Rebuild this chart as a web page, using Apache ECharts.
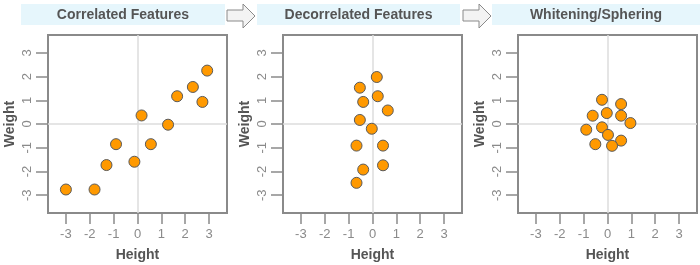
<!DOCTYPE html>
<html><head><meta charset="utf-8">
<script src="https://cdn.jsdelivr.net/npm/echarts@6/dist/echarts.min.js"></script>
<style>html,body{margin:0;padding:0;background:#fff}#c{width:700px;height:265px}</style>
</head><body><div id="c"></div>
<script>
const panelTitles = ['Correlated Features', 'Decorrelated Features', 'Whitening/Sphering'];
const xAxisName = 'Height';
const yAxisName = 'Weight';
const tickValues = [-3, -2, -1, 0, 1, 2, 3];

const correlatedX = [-3.0, -1.8, -1.3, -0.9, -0.13, 0.17, 0.56, 1.28, 1.66, 2.32, 2.72, 2.92];
const correlatedY = [-2.76, -2.76, -1.73, -0.85, -1.59, 0.36, -0.85, -0.03, 1.17, 1.56, 0.93, 2.25];

const decorrelatedX = [0.18, -0.53, 0.22, -0.39, 0.64, -0.53, -0.03, -0.67, 0.44, -0.39, 0.44, -0.67];
const decorrelatedY = [1.98, 1.53, 1.17, 0.93, 0.57, 0.17, -0.20, -0.91, -0.91, -1.92, -1.74, -2.48];

const whitenedX = [-0.23, 0.57, -0.03, -0.62, 0.57, 0.96, -0.89, -0.23, 0.02, -0.51, 0.57, 0.19];
const whitenedY = [1.02, 0.84, 0.46, 0.35, 0.35, 0.04, -0.24, -0.14, -0.46, -0.85, -0.70, -0.92];

const panelData = [[correlatedX, correlatedY], [decorrelatedX, decorrelatedY], [whitenedX, whitenedY]];

const gridLefts = [48, 283, 518];
const gridWidth = 179;
const bandBoxes = [[21, 204], [257, 203], [492, 208]];
const arrowLefts = [227, 463];

const grids = [], xAxes = [], yAxes = [], series = [], graphics = [];
const axisGray = '#8a8a8a';
const textGray = '#555';

panelData.forEach((pd, i) => {
  grids.push({left: gridLefts[i], top: 35, width: gridWidth, height: 178, show: true,
    outerBoundsMode: 'none', containLabel: false,
    borderColor: axisGray, borderWidth: 2, backgroundColor: 'transparent'});
  xAxes.push({type: 'value', gridIndex: i, min: -3.75, max: 3.75, offset: 1, position: 'bottom',
    name: xAxisName, nameLocation: 'middle', nameGap: 34,
    nameTextStyle: {fontFamily: 'Liberation Sans', fontWeight: 'bold', fontSize: 14, color: textGray},
    axisLine: {show: false, onZero: false},
    axisTick: {show: true, length: 10, customValues: tickValues, lineStyle: {color: axisGray, width: 1.5}},
    axisLabel: {customValues: tickValues, margin: 14, color: '#8a8a8a', fontSize: 13, fontFamily: 'Liberation Sans'},
    splitLine: {show: false}});
  yAxes.push({type: 'value', gridIndex: i, min: -3.75, max: 3.75, offset: 1, position: 'left',
    name: yAxisName, nameLocation: 'middle', nameGap: 30,
    nameTextStyle: {fontFamily: 'Liberation Sans', fontWeight: 'bold', fontSize: 14, color: textGray},
    axisLine: {show: false, onZero: false},
    axisTick: {show: true, length: 11, customValues: tickValues, lineStyle: {color: axisGray, width: 1.5}},
    axisLabel: {customValues: tickValues, rotate: 90, margin: 13, color: '#8a8a8a', fontSize: 13, fontFamily: 'Liberation Sans'},
    splitLine: {show: false}});
  series.push({type: 'scatter', xAxisIndex: i, yAxisIndex: i,
    data: pd[0].map((x, k) => [x, pd[1][k]]),
    symbolSize: 11, z: 5,
    itemStyle: {color: '#ff9900', borderColor: '#5a5a5a', borderWidth: 1, opacity: 1},
    markLine: {silent: true, symbol: 'none', label: {show: false}, z: 1,
      lineStyle: {color: '#dcdcdc', width: 1.5, type: 'solid'},
      data: [{xAxis: 0}, {yAxis: 0}]}});
  const b = bandBoxes[i];
  graphics.push({type: 'rect', shape: {x: b[0], y: 4, width: b[1], height: 21}, style: {fill: '#e6f6fc'}, z: 0});
  graphics.push({type: 'text', x: b[0] + b[1] / 2, y: 15, z: 2,
    style: {text: panelTitles[i], fill: textGray, font: 'bold 14px "Liberation Sans", Arial, sans-serif', align: 'center', verticalAlign: 'middle'}});
});

arrowLefts.forEach(a => {
  graphics.push({type: 'polygon', z: 3,
    shape: {points: [[a, 10], [a + 16, 10], [a + 16, 4], [a + 28, 16], [a + 16, 28], [a + 16, 21], [a, 21]]},
    style: {fill: '#f3f3f3', stroke: '#8a8a8a', lineWidth: 1}});
});

const chart = echarts.init(document.getElementById('c'), null, {renderer: 'canvas'});
chart.setOption({
  animation: false,
  backgroundColor: '#fff',
  grid: grids, xAxis: xAxes, yAxis: yAxes, series: series, graphic: graphics
});
</script></body></html>
